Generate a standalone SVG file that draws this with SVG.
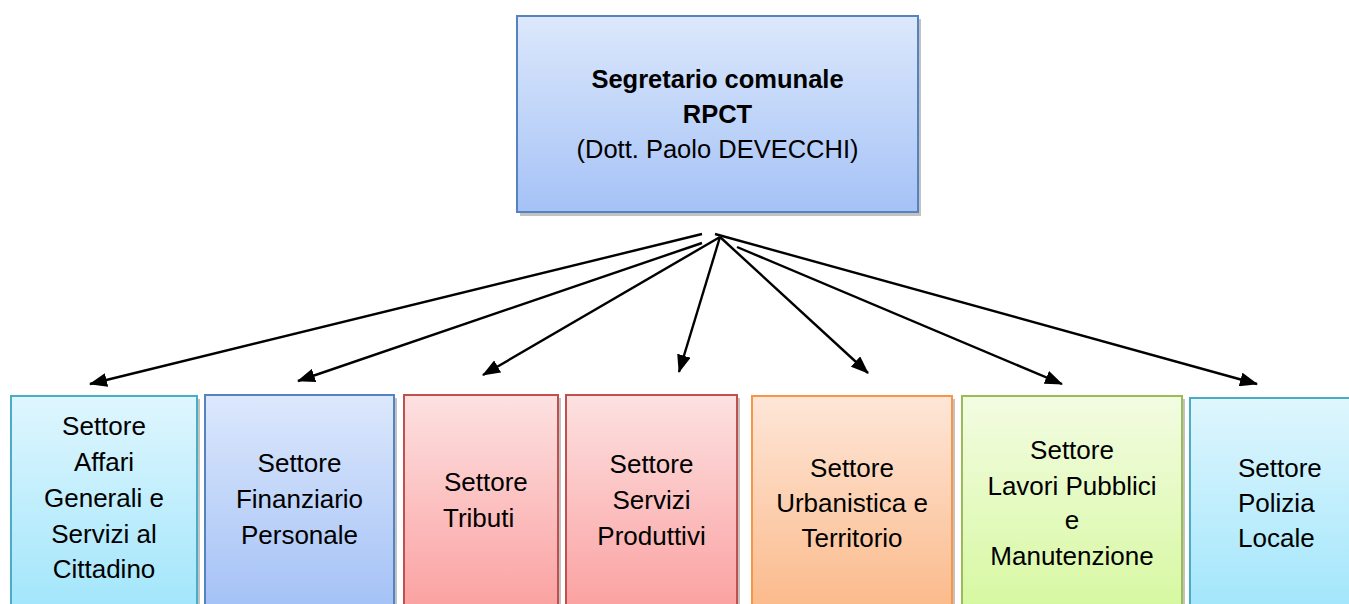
<svg xmlns="http://www.w3.org/2000/svg" width="1349" height="604" viewBox="0 0 1349 604">
<style>
text{font-family:"Liberation Sans",Arial,sans-serif;font-size:26px;fill:#000;text-anchor:middle}
.t{font-size:25.5px}
.b{font-weight:bold}
.l{text-anchor:start}
.sh{fill:#9a9a9a;opacity:0.6}
.conn line{stroke:#000;stroke-width:2.4}
</style>
<defs>
<linearGradient id="gBlue" x1="0" y1="0" x2="0" y2="1"><stop offset="0" stop-color="#dce8fc"/><stop offset="1" stop-color="#a5c2f6"/></linearGradient>
<linearGradient id="gCyan" x1="0" y1="0" x2="0" y2="1"><stop offset="0" stop-color="#dff6fe"/><stop offset="1" stop-color="#a3e6fb"/></linearGradient>
<linearGradient id="gRed" x1="0" y1="0" x2="0" y2="1"><stop offset="0" stop-color="#fde1e1"/><stop offset="1" stop-color="#fba2a2"/></linearGradient>
<linearGradient id="gOrange" x1="0" y1="0" x2="0" y2="1"><stop offset="0" stop-color="#fee6d8"/><stop offset="1" stop-color="#fbbb8c"/></linearGradient>
<linearGradient id="gGreen" x1="0" y1="0" x2="0" y2="1"><stop offset="0" stop-color="#f3fce2"/><stop offset="1" stop-color="#d7f8a2"/></linearGradient>
<marker id="arr" viewBox="0 0 18 14" refX="17" refY="7" markerWidth="18" markerHeight="14" markerUnits="userSpaceOnUse" orient="auto">
<path d="M0,0 L18,7 L0,14 z" fill="#000"/>
</marker>
</defs>

<g id="node-segretario">
<rect class="sh" x="520" y="19" width="401" height="197"/>
<rect x="517" y="16" width="401" height="196" fill="url(#gBlue)" stroke="#5583c0" stroke-width="2"/>
<text class="t b" x="717.5" y="88">Segretario comunale</text>
<text class="t b" x="717.5" y="123">RPCT</text>
<text class="t" x="717.5" y="158">(Dott. Paolo DEVECCHI)</text>
</g>

<g id="node-affari">
<rect class="sh" x="14" y="399" width="186" height="210"/>
<rect x="11" y="396" width="186" height="210" fill="url(#gCyan)" stroke="#4bacc6" stroke-width="2"/>
<text x="104" y="435">Settore</text>
<text x="104" y="471">Affari</text>
<text x="104" y="507">Generali e</text>
<text x="104" y="543">Servizi al</text>
<text x="104" y="578">Cittadino</text>
</g>

<g id="node-finanziario">
<rect class="sh" x="208" y="398" width="189" height="210"/>
<rect x="205" y="395" width="189" height="210" fill="url(#gBlue)" stroke="#5583c0" stroke-width="2"/>
<text x="299.5" y="472">Settore</text>
<text x="299.5" y="508">Finanziario</text>
<text x="299.5" y="544">Personale</text>
</g>

<g id="node-tributi">
<rect class="sh" x="407" y="398" width="154" height="210"/>
<rect x="404" y="395" width="154" height="210" fill="url(#gRed)" stroke="#c0504d" stroke-width="2"/>
<text class="l" x="444" y="491">Settore</text>
<text class="l" x="443" y="527">Tributi</text>
</g>

<g id="node-servizi">
<rect class="sh" x="569" y="398" width="171" height="210"/>
<rect x="566" y="395" width="171" height="210" fill="url(#gRed)" stroke="#c0504d" stroke-width="2"/>
<text x="651.5" y="473">Settore</text>
<text x="651.5" y="509">Servizi</text>
<text x="651.5" y="545">Produttivi</text>
</g>

<g id="node-urbanistica">
<rect class="sh" x="755" y="399" width="200" height="210"/>
<rect x="752" y="396" width="200" height="210" fill="url(#gOrange)" stroke="#f79646" stroke-width="2"/>
<text x="852" y="477">Settore</text>
<text x="852" y="512">Urbanistica e</text>
<text x="852" y="547">Territorio</text>
</g>

<g id="node-lavori">
<rect class="sh" x="965" y="399" width="220" height="210"/>
<rect x="962" y="396" width="220" height="210" fill="url(#gGreen)" stroke="#9bbb59" stroke-width="2"/>
<text x="1072" y="459">Settore</text>
<text x="1072" y="495">Lavori Pubblici</text>
<text x="1072" y="529">e</text>
<text x="1072" y="565">Manutenzione</text>
</g>

<g id="node-polizia">
<rect class="sh" x="1193" y="401" width="170" height="210"/>
<rect x="1190" y="398" width="170" height="210" fill="url(#gCyan)" stroke="#4bacc6" stroke-width="2"/>
<text class="l" x="1238" y="477">Settore</text>
<text class="l" x="1238" y="512">Polizia</text>
<text class="l" x="1238" y="547">Locale</text>
</g>

<g id="connectors" class="conn">
<line x1="702" y1="234" x2="90" y2="384" marker-end="url(#arr)"/>
<line x1="702" y1="243" x2="298" y2="381" marker-end="url(#arr)"/>
<line x1="720" y1="237" x2="483" y2="375" marker-end="url(#arr)"/>
<line x1="720" y1="237" x2="679" y2="372" marker-end="url(#arr)"/>
<line x1="720" y1="237" x2="868" y2="373" marker-end="url(#arr)"/>
<line x1="737" y1="247" x2="1062" y2="384" marker-end="url(#arr)"/>
<line x1="715" y1="234" x2="1257" y2="384" marker-end="url(#arr)"/>
</g>
</svg>
